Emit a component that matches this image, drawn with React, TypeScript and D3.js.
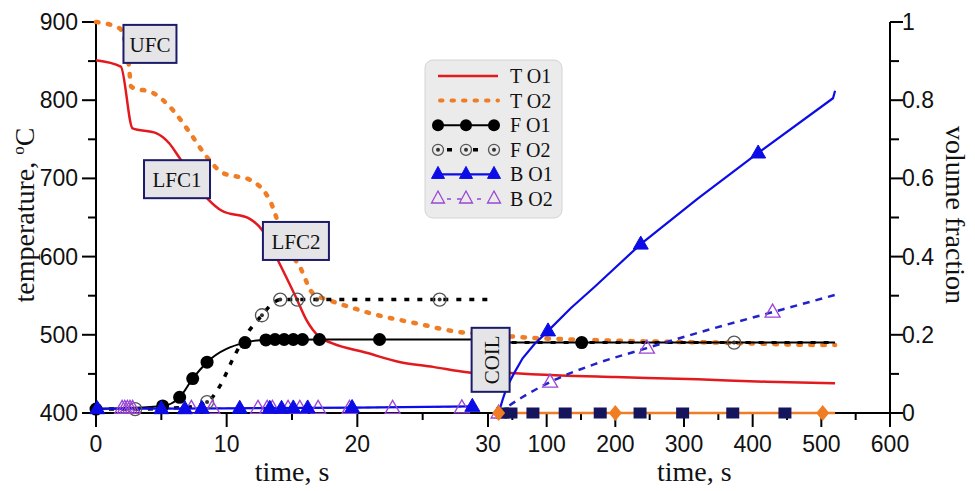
import * as d3 from 'd3'
import React from 'react'

// ---- data: [time s, value] ----
// left panel = 0..30 s, right panel = 30..520 s
const tempO1Left = [[0, 851], [1.9, 843], [2.8, 764], [4.6, 758], [5.6, 745], [6.4, 726], [8.6, 673], [9.6, 659], [11.8, 648], [12.8, 632], [13.9, 596], [15.3, 548], [16.1, 519], [17.1, 497], [18.1, 489], [20.7, 477], [23.3, 465], [25.8, 459], [28.4, 452], [30, 450]]
const tempO1Right = [[30, 452], [47, 451], [120, 448], [200, 446], [320, 443], [420, 440], [520, 438]]
const tempO2Left = [[0, 900], [1.8, 892], [2.5, 847], [2.7, 817], [4.4, 809], [5.9, 787], [7.2, 758], [8.5, 727], [9.7, 707], [11.8, 698], [13.3, 672], [14.6, 612], [15.6, 587], [16.6, 553], [17.9, 544], [19.7, 534], [20.9, 528], [24.7, 514], [27.6, 504], [30, 501]]
const tempO2Right = [[30, 500], [47, 498], [178, 493], [350, 490], [509, 487], [520, 487]]

const ferO1Left = [[0, 0.01], [5.1, 0.018], [6.4, 0.04], [7.4, 0.088], [8.5, 0.13], [11.4, 0.18], [13.0, 0.187], [17.1, 0.188], [30, 0.188]]
const ferO1LeftMarks = [[0, 0.01], [5.1, 0.018], [6.4, 0.04], [7.4, 0.088], [8.5, 0.13], [11.4, 0.18], [13.0, 0.187], [13.7, 0.188], [14.4, 0.188], [15.1, 0.188], [15.8, 0.188], [17.1, 0.188], [21.7, 0.188]]
const ferO1Right = [[30, 0.18], [520, 0.18]]
const ferO1RightMarks = [[151, 0.18]]

const ferO2Left = [[0, 0.01], [3.0, 0.01], [7, 0.015], [8.5, 0.028], [9.5, 0.07], [10.5, 0.14], [11.5, 0.2], [12.7, 0.25], [13.5, 0.28], [14.1, 0.29], [30, 0.29]]
const ferO2LeftMarks = [[3.0, 0.01], [8.5, 0.028], [12.7, 0.25], [14.1, 0.29], [15.4, 0.29], [16.9, 0.29], [26.3, 0.29]]
const ferO2Right = [[30, 0.18], [520, 0.18]]
const ferO2RightMarks = [[373, 0.18]]

const baiO1Left = [[0, 0.011], [10, 0.012], [20, 0.014], [28.8, 0.017]]
const baiO1LeftMarks = [[0.1, 0.011], [5.0, 0.011], [6.8, 0.011], [8.1, 0.012], [11.0, 0.012], [13.3, 0.012], [14.2, 0.012], [15.1, 0.013], [16.2, 0.013], [19.6, 0.014], [28.8, 0.017]]
const baiO1Right = [[30, 0], [36, 0.035], [42, 0.066], [52, 0.1], [65, 0.14], [82, 0.176], [102, 0.21], [135, 0.268], [170, 0.323], [237, 0.432], [320, 0.548], [408, 0.665], [517, 0.805], [520, 0.824]]
const baiO1RightMarks = [[102, 0.21], [237, 0.432], [408, 0.665]]

const baiO2Left = [[0, 0.011], [10, 0.012], [20, 0.014], [28, 0.016]]
const baiO2LeftMarks = [[2.0, 0.012], [2.2, 0.012], [2.4, 0.012], [2.6, 0.012], [2.8, 0.012], [7.3, 0.012], [8.9, 0.012], [12.4, 0.012], [13.1, 0.012], [13.5, 0.012], [14.7, 0.012], [15.6, 0.012], [17.0, 0.012], [19.4, 0.012], [22.7, 0.012], [28.0, 0.013]]
const baiO2Right = [[30, 0], [65, 0.041], [105, 0.079], [170, 0.125], [246, 0.166], [340, 0.215], [429, 0.258], [520, 0.302]]
const baiO2RightMarks = [[30, 0], [105, 0.079], [246, 0.166], [429, 0.258]]

const pearO1RightMarks = [[36, 0], [48, 0], [80, 0], [127, 0], [178, 0], [236, 0], [298, 0], [371, 0], [447, 0]]
const pearO2Right = [[30, 0], [520, 0]]
const pearO2RightMarks = [[30, 0], [200, 0], [502, 0]]

const legendNames = ['T O1', 'T O2', 'F O1', 'F O2', 'B O1', 'B O2']

// annotation boxes: [label, time (left scale), temperature]
const notes = [['UFC', 4.13, 872], ['LFC1', 6.2, 699], ['LFC2', 15.3, 620]]
const coilNote = ['COIL', 30.2, 468]

const tempTicks = [400, 500, 600, 700, 800, 900]
const tempMinor = [450, 550, 650, 750, 850]
const fracTicks = [0, 0.2, 0.4, 0.6, 0.8, 1]
const fracMinor = [0.1, 0.3, 0.5, 0.7, 0.9]
const leftTimeTicks = [0, 10, 20, 30]
const leftTimeMinor = [5, 15, 25]
const rightTimeTicks = [100, 200, 300, 400, 500, 600]
const rightTimeMinor = [50, 150, 250, 350, 450, 550]

const RED = '#e3191e'
const ORANGE = '#f07d23'
const BLUE = '#0c0ce6'
const DBLUE = '#2222c8'
const PURPLE = '#9a46d6'
const NAVY = '#15155e'
const SANS = 'Liberation Sans, Arial, sans-serif'
const SERIF = 'Liberation Serif, Times New Roman, serif'

const triPath = 'M0,-8L7.5,5L-7.5,5Z'
const legTriPath = 'M0,-7L6.5,5L-6.5,5Z'
const diaPath = 'M0,-8L6.5,0L0,8L-6.5,0Z'

export default function App() {
  const W = 975
  const H = 491
  const xL = d3.scaleLinear().domain([0, 30]).range([96, 488])
  const xR = d3.scaleLinear().domain([0, 600]).range([478, 890])
  const yT = d3.scaleLinear().domain([400, 900]).range([413, 22])
  const yF = d3.scaleLinear().domain([0, 1]).range([413, 22])

  const path = (x, y, data, curve = d3.curveMonotoneX) => d3.line()
    .x(d => x(d[0]))
    .y(d => y(d[1]))
    .curve(curve)(data)

  const circles = (x, y, data, key) => data.map((d, i) =>
    <circle key={key + i} cx={x(d[0])} cy={y(d[1])} r={6.5} fill='#000' />)
  const rings = (x, y, data, key) => data.map((d, i) =>
    <g key={key + i} transform={`translate(${x(d[0])},${y(d[1])})`}>
      <circle r={6.5} fill='none' stroke='#555' strokeWidth={1.3} />
      <circle r={2} fill='#333' />
    </g>)
  const tris = (x, y, data, key, open) => data.map((d, i) =>
    <path key={key + i} d={triPath} transform={`translate(${x(d[0])},${y(d[1])})`}
      fill={open ? 'none' : BLUE} stroke={open ? PURPLE : BLUE} strokeWidth={open ? 1.3 : 1} />)

  const ax = '#000'
  const legX = 438
  const legY = d3.scaleLinear().domain([0, 5]).range([76, 199])
  const legOff = [0, 28, 56]

  return (
    <svg width={W} height={H} style={{ position: 'absolute', left: 0, top: 0, background: '#fff' }}>
      {/* axes */}
      <g stroke={ax} strokeWidth={2}>
        <line x1={96} x2={96} y1={yT(900)} y2={yT(400)} />
        <line x1={890} x2={890} y1={yF(1)} y2={yF(0)} />
        <line x1={96} x2={890} y1={413} y2={413} />
        {tempTicks.map(t => <line key={'tt' + t} x1={96 - 14} x2={96} y1={yT(t)} y2={yT(t)} />)}
        {tempMinor.map(t => <line key={'tm' + t} x1={96 - 8} x2={96} y1={yT(t)} y2={yT(t)} />)}
        {fracTicks.map(t => <line key={'ft' + t} x1={890} x2={890 + 13} y1={yF(t)} y2={yF(t)} />)}
        {fracMinor.map(t => <line key={'fm' + t} x1={890} x2={890 + 9} y1={yF(t)} y2={yF(t)} />)}
        {leftTimeTicks.map(t => <line key={'lt' + t} x1={xL(t)} x2={xL(t)} y1={413} y2={427} />)}
        {leftTimeMinor.map(t => <line key={'lm' + t} x1={xL(t)} x2={xL(t)} y1={413} y2={420} />)}
        {rightTimeTicks.map(t => <line key={'rt' + t} x1={xR(t)} x2={xR(t)} y1={413} y2={427} />)}
        {rightTimeMinor.map(t => <line key={'rm' + t} x1={xR(t)} x2={xR(t)} y1={413} y2={420} />)}
      </g>
      <g fontFamily={SANS} fontSize={23} fill='#111'>
        {tempTicks.map(t => <text key={'tl' + t} x={78} y={yT(t)} textAnchor='end' dominantBaseline='central'>{t}</text>)}
        {fracTicks.map(t => <text key={'fl' + t} x={902} y={yF(t)} dominantBaseline='central'>{t}</text>)}
        {leftTimeTicks.map(t => <text key={'xl' + t} x={xL(t)} y={452} textAnchor='middle'>{t}</text>)}
        {rightTimeTicks.map(t => <text key={'xr' + t} x={xR(t)} y={452} textAnchor='middle'>{t}</text>)}
      </g>
      <g fontFamily={SERIF} fontSize={28} fill='#111'>
        <text transform='translate(34,215) rotate(-90)' textAnchor='middle'>
          temperature, <tspan fontSize={17} dy={-10}>o</tspan><tspan dy={10}>C</tspan>
        </text>
        <text transform='translate(946,215) rotate(90)' textAnchor='middle'>volume fraction</text>
        <text x={(xL(0) + xL(30)) / 2} y={481} textAnchor='middle'>time, s</text>
        <text x={(xR(30) + xR(600)) / 2} y={481} textAnchor='middle'>time, s</text>
      </g>

      {/* lines */}
      <g fill='none'>
        <path d={path(xL, yT, tempO1Left)} stroke={RED} strokeWidth={2.5} />
        <path d={path(xR, yT, tempO1Right)} stroke={RED} strokeWidth={2.5} />
        <path d={path(xL, yT, tempO2Left)} stroke={ORANGE} strokeWidth={4.5} strokeDasharray='2.5 9.5' strokeLinecap='round' />
        <path d={path(xR, yT, tempO2Right)} stroke={ORANGE} strokeWidth={4.5} strokeDasharray='2.5 9.5' strokeLinecap='round' />
        <path d={path(xL, yF, ferO1Left)} stroke='#000' strokeWidth={2} />
        <path d={path(xR, yF, ferO1Right)} stroke='#000' strokeWidth={2} />
        <path d={path(xL, yF, ferO2Left)} stroke='#000' strokeWidth={3.5} strokeDasharray='5 8' />
        <path d={path(xR, yF, ferO2Right)} stroke='#000' strokeWidth={3} strokeDasharray='5 8' />
        <path d={path(xL, yF, baiO2Left)} stroke={PURPLE} strokeWidth={1.5} strokeDasharray='5 5' />
        <path d={path(xR, yF, baiO2Right)} stroke={DBLUE} strokeWidth={2.5} strokeDasharray='7 6' />
        <path d={path(xL, yF, baiO1Left)} stroke={BLUE} strokeWidth={2.2} />
        <path d={path(xR, yF, baiO1Right, d3.curveLinear)} stroke={BLUE} strokeWidth={2.2} />
        <path d={path(xR, yF, pearO2Right)} stroke={ORANGE} strokeWidth={2.5} />
      </g>

      {/* markers */}
      {circles(xL, yF, ferO1LeftMarks, 'c1')}
      {circles(xR, yF, ferO1RightMarks, 'c2')}
      {rings(xL, yF, ferO2LeftMarks, 'r1')}
      {rings(xR, yF, ferO2RightMarks, 'r2')}
      {tris(xL, yF, baiO2LeftMarks, 'o1', true)}
      {tris(xR, yF, baiO2RightMarks, 'o2', true)}
      {tris(xL, yF, baiO1LeftMarks, 'b1', false)}
      {tris(xR, yF, baiO1RightMarks, 'b2', false)}
      {pearO1RightMarks.map((d, i) =>
        <rect key={'sq' + i} x={xR(d[0]) - 6.5} y={yF(d[1]) - 5.5} width={13} height={11} fill={NAVY} />)}
      {pearO2RightMarks.map((d, i) =>
        <path key={'di' + i} d={diaPath} transform={`translate(${xR(d[0])},${yF(d[1])})`} fill={ORANGE} />)}

      {/* annotation boxes */}
      <g fontFamily={SERIF} fontSize={21} fill='#111'>
        {notes.map(n => {
          const w = n[0].length * 13 + 14
          return (
            <g key={n[0]} transform={`translate(${xL(n[1])},${yT(n[2])})`}>
              <rect x={-w / 2} y={-19} width={w} height={38} fill='#e5e5e8' stroke='#1b1b6a' strokeWidth={2} />
              <text textAnchor='middle' dominantBaseline='central' y={1}>{n[0]}</text>
            </g>
          )
        })}
        <g transform={`translate(${xL(coilNote[1])},${yT(coilNote[2])})`}>
          <rect x={-19} y={-32} width={38} height={64} fill='#e5e5e8' stroke='#1b1b6a' strokeWidth={2} />
          <text transform='rotate(-90)' textAnchor='middle' dominantBaseline='central' y={1}>{coilNote[0]}</text>
        </g>
      </g>

      {/* legend */}
      <g>
        <rect x={425} y={60} width={137} height={158} rx={8} fill='#ebebeb' stroke='#d4d4d4' />
        <line x1={legX} x2={legX + 60} y1={legY(0)} y2={legY(0)} stroke={RED} strokeWidth={2.5} />
        <line x1={legX + 2} x2={legX + 60} y1={legY(1)} y2={legY(1)} stroke={ORANGE} strokeWidth={4} strokeDasharray='2.5 9' strokeLinecap='round' />
        <line x1={legX} x2={legX + 56} y1={legY(2)} y2={legY(2)} stroke='#000' strokeWidth={2} />
        {legOff.map(o => <circle key={'lc' + o} cx={legX + o} cy={legY(2)} r={6} fill='#000' />)}
        <line x1={legX + 9} x2={legX + 48} y1={legY(3)} y2={legY(3)} stroke='#000' strokeWidth={3.5} strokeDasharray='5 8' />
        {legOff.map(o =>
          <g key={'lr' + o} transform={`translate(${legX + o},${legY(3)})`}>
            <circle r={5.5} fill='#ebebeb' stroke='#555' strokeWidth={1.3} />
            <circle r={2} fill='#333' />
          </g>)}
        <line x1={legX} x2={legX + 56} y1={legY(4)} y2={legY(4)} stroke={BLUE} strokeWidth={2.2} />
        {legOff.map(o => <path key={'lb' + o} d={legTriPath} transform={`translate(${legX + o},${legY(4) - 1})`} fill={BLUE} stroke={BLUE} />)}
        <line x1={legX + 9} x2={legX + 48} y1={legY(5)} y2={legY(5)} stroke={PURPLE} strokeWidth={1.5} strokeDasharray='4 6' />
        {legOff.map(o => <path key={'lo' + o} d={legTriPath} transform={`translate(${legX + o},${legY(5) - 1})`} fill='#ebebeb' stroke={PURPLE} strokeWidth={1.3} />)}
        <g fontFamily={SERIF} fontSize={20} fill='#111'>
          {legendNames.map((n, i) => <text key={n} x={510} y={legY(i)} dominantBaseline='central'>{n}</text>)}
        </g>
      </g>
    </svg>
  )
}
